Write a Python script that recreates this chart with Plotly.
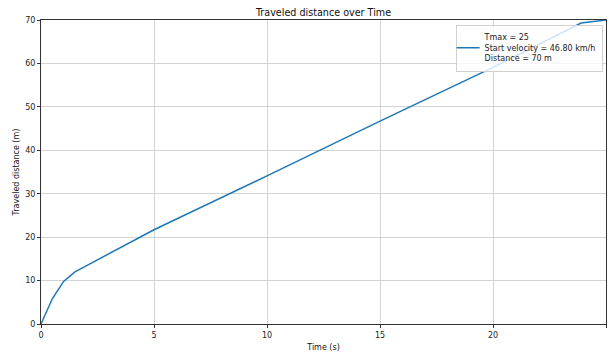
import plotly.graph_objects as go

time_s = [0, 0.5, 1, 1.5, 2, 2.5, 3, 3.5, 4, 5, 10, 15, 20, 23.9, 25]
distance_m = [0, 5.8, 9.8, 12.0, 13.4, 14.8, 16.2, 17.6, 19.0, 21.7, 34.1, 46.7, 59.1, 69.3, 70]
x_ticks = [0, 5, 10, 15, 20, 25]
y_ticks = [0, 10, 20, 30, 40, 50, 60, 70]
legend_label = "Tmax = 25<br>Start velocity = 46.80 km/h<br>Distance = 70 m"

FONT = "DejaVu Sans"

fig = go.Figure()
fig.add_trace(go.Scatter(
    x=time_s, y=distance_m, mode="lines",
    line=dict(color="#1f77b4", width=1.5),
    name=legend_label, showlegend=True,
))

axis_common = dict(
    showline=True, linecolor="#333333", linewidth=1, mirror=True,
    ticks="outside", ticklen=3, tickwidth=0.8, tickcolor="#333333",
    showgrid=True, gridcolor="#d3d3d3", gridwidth=0.8,
    zeroline=False,
    tickfont=dict(family=FONT, size=8, color="#222222"),
    title_font=dict(family=FONT, size=8, color="#111111"),
)

fig.update_layout(
    width=611, height=354,
    margin=dict(l=41, r=4, t=20, b=28),
    paper_bgcolor="white", plot_bgcolor="white",
    title=dict(text="Traveled distance over Time", x=0.5, xref="paper", xanchor="center",
               y=1 - 12.5 / 354, yanchor="middle",
               font=dict(family=FONT, size=9.6, color="#111111")),
    xaxis=dict(range=[0, 25], tickvals=x_ticks, title=dict(text="Time (s)", standoff=5), **axis_common),
    yaxis=dict(range=[0, 70], tickvals=y_ticks, title=dict(text="Traveled distance (m)", standoff=4), **axis_common),
    legend=dict(
        x=0.994, y=0.985, xanchor="right", yanchor="top",
        bgcolor="rgba(255,255,255,0.8)", bordercolor="#d0d0d0", borderwidth=1,
        font=dict(family=FONT, size=8, color="#222222"),
        valign="middle", indentation=-12,
    ),
)

fig.write_html("out.html")
